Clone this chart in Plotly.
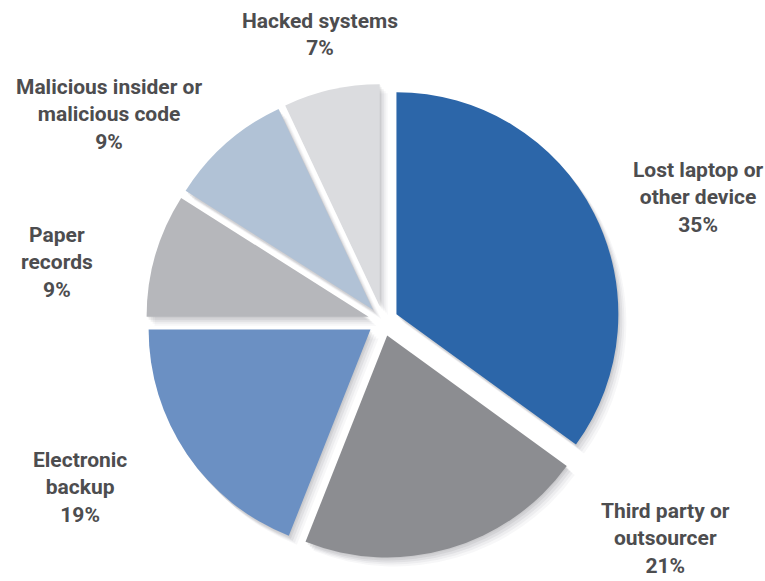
import plotly.graph_objects as go

# Causes of data breaches (share of incidents, %)
categories = [
    "Lost laptop or<br>other device",
    "Third party or<br>outsourcer",
    "Electronic<br>backup",
    "Paper<br>records",
    "Malicious insider or<br>malicious code",
    "Hacked systems",
]
values = [35, 21, 19, 9, 9, 7]
colors = ["#2C66A9", "#8C8D91", "#6B90C3", "#B6B7BB", "#B1C2D6", "#DBDCDF"]

# label anchor points (pixel centre of each label block)
label_px = [(698, 198), (665, 538), (80, 487), (57, 262), (109, 115), (320, 34)]

W, H = 765, 581
PULL = 0.068
cx, cy, half = 383, 321, 237  # pie centre and half-size of its domain, px


def domain(dx=0, dy=0):
    x0 = (cx - half + dx) / W
    x1 = (cx + half + dx) / W
    y0 = (H - (cy + half + dy)) / H
    y1 = (H - (cy - half + dy)) / H
    return dict(x=[x0, x1], y=[y0, y1])


fig = go.Figure()

# soft drop shadow: stacked translucent copies offset down-right
for dx, dy, a in [(8, 9, 0.04), (6, 7, 0.05), (4, 5, 0.07), (2, 3, 0.08), (1, 1, 0.06)]:
    fig.add_trace(go.Pie(
        values=values, sort=False, direction="clockwise", rotation=0,
        pull=[PULL] * len(values), textinfo="none", hoverinfo="skip",
        marker=dict(colors=[f"rgba(60,60,70,{a})"] * len(values), line=dict(width=0)),
        domain=domain(dx, dy), showlegend=False,
    ))

fig.add_trace(go.Pie(
    labels=[c.replace("<br>", " ") for c in categories],
    values=values, sort=False, direction="clockwise", rotation=0,
    pull=[PULL] * len(values), textinfo="none",
    marker=dict(colors=colors, line=dict(width=0)),
    domain=domain(), showlegend=False,
))

total = sum(values)
annotations = []
for cat, v, (px, py) in zip(categories, values, label_px):
    pct = round(100 * v / total)
    annotations.append(dict(
        text=f"<b>{cat}<br>{pct}%</b>", x=px / W, y=1 - py / H,
        xref="paper", yref="paper", xanchor="center", yanchor="middle",
        showarrow=False, align="center",
        font=dict(family="Roboto, sans-serif", size=21, color="#4D4D4F"),
    ))

fig.update_layout(
    width=W, height=H, margin=dict(l=0, r=0, t=0, b=0),
    paper_bgcolor="white", plot_bgcolor="white",
    annotations=annotations,
)
fig.write_html("out.html")
